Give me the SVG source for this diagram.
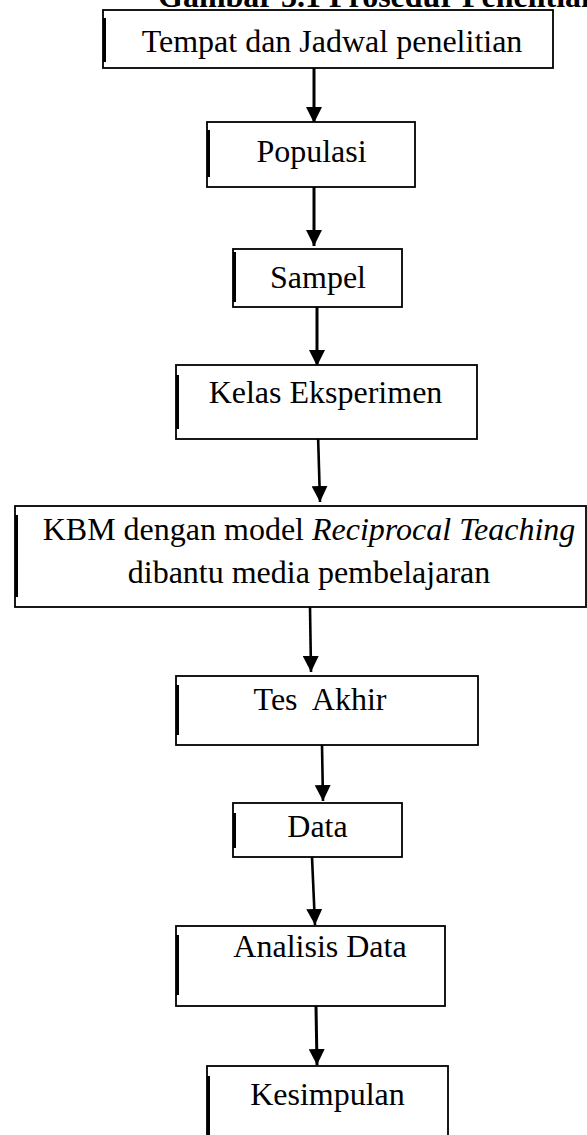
<svg xmlns="http://www.w3.org/2000/svg" width="587" height="1135" viewBox="0 0 587 1135">
<style>
.box{fill:#fff;stroke:#000;stroke-width:1.8}
.thick{stroke:#000;stroke-width:3}
.t{font-family:"Liberation Serif","Times New Roman",serif;font-size:32px;fill:#000;text-anchor:middle}
.title{font-family:"Liberation Serif","Times New Roman",serif;font-size:32px;font-weight:bold;fill:#000}
.c{stroke:#000;stroke-width:2.6;fill:none}
</style>
<defs>
<marker id="ah" markerUnits="userSpaceOnUse" markerWidth="16" markerHeight="16" viewBox="0 0 16 16" refX="16" refY="8" orient="auto">
<path d="M0,0 L16,8 L0,16 z" fill="#000"/>
</marker>
</defs>
<rect width="587" height="1135" fill="#fff"/>
<text class="title" x="158" y="7">Gambar 3.1 Prosedur Penelitian</text>

<g id="connectors">
<line class="c" x1="314" y1="66" x2="314" y2="123" marker-end="url(#ah)" style="stroke-width:3"/>
<line class="c" x1="314" y1="187" x2="314" y2="246" marker-end="url(#ah)" style="stroke-width:3"/>
<line class="c" x1="317" y1="307" x2="317" y2="366" marker-end="url(#ah)" style="stroke-width:3"/>
<line class="c" x1="318" y1="434" x2="320" y2="502" marker-end="url(#ah)"/>
<line class="c" x1="310" y1="607" x2="311" y2="672" marker-end="url(#ah)"/>
<line class="c" x1="322" y1="745" x2="323" y2="801" marker-end="url(#ah)"/>
<line class="c" x1="312" y1="857" x2="315" y2="925" marker-end="url(#ah)"/>
<line class="c" x1="316" y1="1006" x2="317" y2="1065" marker-end="url(#ah)" style="stroke-width:3"/>
</g>

<g id="n1">
<rect class="box" x="103" y="10" width="450" height="58"/>
<line class="thick" x1="104.5" y1="18" x2="104.5" y2="62"/>
<text class="t" x="332" y="52">Tempat dan Jadwal penelitian</text>
</g>
<g id="n2">
<rect class="box" x="207" y="122" width="208" height="65"/>
<line class="thick" x1="208.5" y1="130" x2="208.5" y2="177"/>
<text class="t" x="311.5" y="162">Populasi</text>
</g>
<g id="n3">
<rect class="box" x="233" y="249" width="169" height="58"/>
<line class="thick" x1="234.5" y1="252" x2="234.5" y2="302"/>
<text class="t" x="318" y="288">Sampel</text>
</g>
<g id="n4">
<rect class="box" x="176" y="365" width="301" height="74"/>
<line class="thick" x1="177.5" y1="375" x2="177.5" y2="429"/>
<text class="t" x="325.5" y="403">Kelas Eksperimen</text>
</g>
<g id="n5">
<rect class="box" x="15" y="506" width="571" height="101"/>
<line class="thick" x1="16.5" y1="515" x2="16.5" y2="597"/>
<text class="t" x="309" y="540">KBM dengan model <tspan font-style="italic">Reciprocal Teaching</tspan></text>
<text class="t" x="309" y="583">dibantu media pembelajaran</text>
</g>
<g id="n6">
<rect class="box" x="176" y="676" width="302" height="69"/>
<line class="thick" x1="177.5" y1="685" x2="177.5" y2="735"/>
<text class="t" x="320" y="710" xml:space="preserve">Tes  Akhir</text>
</g>
<g id="n7">
<rect class="box" x="233" y="803" width="169" height="54"/>
<line class="thick" x1="234.5" y1="813" x2="234.5" y2="848"/>
<text class="t" x="317.5" y="837">Data</text>
</g>
<g id="n8">
<rect class="box" x="176" y="926" width="269" height="80"/>
<line class="thick" x1="177.5" y1="935" x2="177.5" y2="995"/>
<text class="t" x="320" y="957">Analisis Data</text>
</g>
<g id="n9">
<rect class="box" x="207" y="1066" width="241" height="90"/>
<line class="thick" x1="208.5" y1="1076" x2="208.5" y2="1135"/>
<text class="t" x="327.5" y="1105">Kesimpulan</text>
</g>
</svg>
